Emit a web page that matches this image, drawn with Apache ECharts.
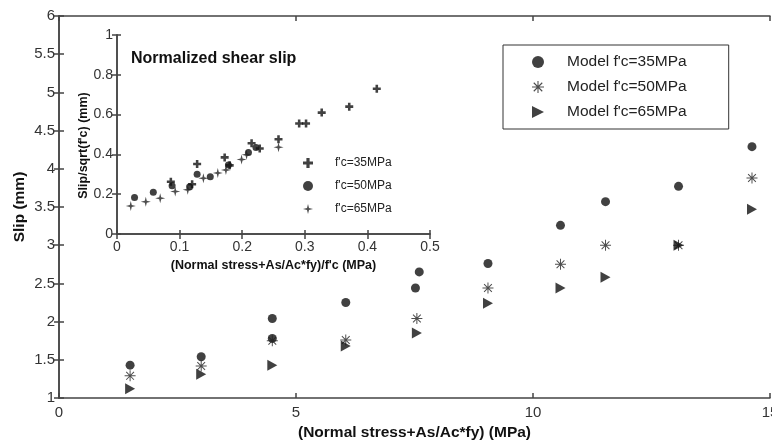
<!DOCTYPE html>
<html>
<head>
<meta charset="utf-8">
<script src="https://cdn.jsdelivr.net/npm/echarts@6/dist/echarts.min.js"></script>
<style>
  html, body { margin: 0; padding: 0; background: #fff; }
  #chart { width: 772px; height: 443px; }
</style>
</head>
<body>
<div id="chart"></div>
<script>
// ---- Main chart data: [normal stress + As/Ac*fy (MPa), slip (mm)] ----
const model35 = [[1.5,1.43],[3.0,1.54],[4.5,2.04],[4.5,1.78],[6.05,2.25],[7.6,2.65],[7.52,2.44],[9.05,2.76],[10.58,3.26],[11.53,3.57],[13.07,3.77],[14.62,4.29]];
const model50 = [[1.5,1.29],[3.0,1.42],[4.5,1.75],[6.05,1.76],[7.55,2.04],[9.05,2.44],[10.58,2.75],[11.53,3.0],[13.07,3.0],[14.62,3.88]];
const model65 = [[1.5,1.12],[3.0,1.31],[4.5,1.43],[6.05,1.68],[7.55,1.85],[9.05,2.24],[10.58,2.44],[11.53,2.58],[13.07,3.0],[14.62,3.47]];

// ---- Inset data: [normalized stress, slip/sqrt(f'c)] ----
const inset35 = [[0.086,0.263],[0.12,0.25],[0.128,0.352],[0.172,0.385],[0.18,0.345],[0.215,0.456],[0.228,0.43],[0.258,0.476],[0.291,0.555],[0.302,0.555],[0.327,0.61],[0.371,0.64],[0.415,0.73]];
const inset50 = [[0.028,0.184],[0.058,0.21],[0.088,0.243],[0.116,0.238],[0.128,0.30],[0.149,0.288],[0.178,0.347],[0.21,0.41],[0.222,0.435]];
const inset65 = [[0.022,0.141],[0.046,0.162],[0.069,0.18],[0.093,0.213],[0.113,0.222],[0.138,0.28],[0.161,0.306],[0.174,0.322],[0.199,0.375],[0.207,0.398],[0.258,0.436]];

// ---- Labels ----
const mainNames = ["Model f'c=35MPa", "Model f'c=50MPa", "Model f'c=65MPa"];
const insetNames = ["f'c=35MPa", "f'c=50MPa", "f'c=65MPa"];
const mainXName = "(Normal stress+As/Ac*fy) (MPa)";
const mainYName = "Slip (mm)";
const insetXName = "(Normal stress+As/Ac*fy)/f'c (MPa)";
const insetYName = "Slip/sqrt(f'c) (mm)";
const insetTitle = "Normalized shear slip";

const INK = '#111';
const AX = '#444';
const FONT = '"Liberation Sans", Arial, sans-serif';

const asterisk = 'path://M0,9.1L20,9.1L20,10.9L0,10.9Z M9.1,0L10.9,0L10.9,20L9.1,20Z M3.57,2.29L17.71,16.43L16.43,17.71L2.29,3.57Z M17.71,3.57L3.57,17.71L2.29,16.43L16.43,2.29Z';
const triRight = 'path://M0,0L10,5L0,10Z';
const boldCross = 'path://M3.4,0H6.6V3.4H10V6.6H6.6V10H3.4V6.6H0V3.4H3.4Z';
const star4 = 'path://M5,0L6,4L10,5L6,6L5,10L4,6L0,5L4,4Z';

function mirrorX(grid, min, max, interval) {
  return { type: 'value', gridIndex: grid, position: 'top', min, max, interval,
    axisLine: { show: true, lineStyle: { color: AX, width: 1.5 } },
    axisTick: { show: true, inside: true, length: 5, lineStyle: { color: AX, width: 1.5 } },
    axisLabel: { show: false }, splitLine: { show: false } };
}
function mirrorY(grid, min, max, interval) {
  return { type: 'value', gridIndex: grid, position: 'right', min, max, interval,
    axisLine: { show: true, lineStyle: { color: AX, width: 1.5 } },
    axisTick: { show: true, inside: true, length: 5, lineStyle: { color: AX, width: 1.5 } },
    axisLabel: { show: false }, splitLine: { show: false } };
}

const chart = echarts.init(document.getElementById('chart'), null, { renderer: 'canvas' });
chart.setOption({
  animation: false,
  backgroundColor: '#fff',
  textStyle: { fontFamily: FONT },
  title: {
    text: insetTitle, left: 131, top: 51, padding: 0,
    textStyle: { fontSize: 16, fontWeight: 'bold', color: INK, fontFamily: FONT }
  },
  grid: [
    { left: 59, right: 2, top: 16, bottom: 45, show: false, containLabel: false, outerBoundsMode: 'none' },
    { left: 117, right: 342, top: 35, bottom: 209, show: true, backgroundColor: '#fff', borderWidth: 0, z: 5,
      containLabel: false, outerBoundsMode: 'none' }
  ],
  legend: [
    {
      data: mainNames, orient: 'vertical', left: 503, top: 45,
      itemWidth: 12, itemHeight: 12, itemGap: 9,
      padding: [9, 42, 9, 29],
      borderColor: '#333', borderWidth: 1, selectedMode: false,
      textStyle: { fontSize: 15.5, color: '#222', fontFamily: FONT, padding: [0, 0, 0, 18] }
    },
    {
      data: insetNames, orient: 'vertical', left: 303, top: 157, z: 20,
      itemWidth: 10, itemHeight: 10, itemGap: 11, padding: 0, selectedMode: false,
      textStyle: { fontSize: 12, color: '#222', fontFamily: FONT, padding: [0, 0, 0, 17] }
    }
  ],
  xAxis: [
    { type: 'value', gridIndex: 0, min: 0, max: 15, interval: 5,
      name: mainXName, nameLocation: 'middle', nameGap: 25,
      nameTextStyle: { fontSize: 15.5, fontWeight: 'bold', color: INK, fontFamily: FONT },
      axisLine: { show: true, lineStyle: { color: AX, width: 1.5 } },
      axisTick: { show: true, inside: true, length: 5, lineStyle: { color: AX, width: 1.5 } },
      axisLabel: { fontSize: 15, color: '#333', margin: 7, fontFamily: FONT },
      splitLine: { show: false } },
    mirrorX(0, 0, 15, 5),
    { type: 'value', gridIndex: 1, min: 0, max: 0.5, interval: 0.1, z: 10,
      name: insetXName, nameLocation: 'middle', nameGap: 25,
      nameTextStyle: { fontSize: 12.5, fontWeight: 'bold', color: INK, fontFamily: FONT },
      axisLine: { show: true, lineStyle: { color: AX, width: 1.5 } },
      axisTick: { show: true, inside: true, length: 4, lineStyle: { color: AX, width: 1.5 } },
      axisLabel: { fontSize: 14, color: '#333', margin: 6, fontFamily: FONT },
      splitLine: { show: false } },
    Object.assign(mirrorX(1, 0, 0.5, 0.1), { z: 10 })
  ],
  yAxis: [
    { type: 'value', gridIndex: 0, min: 1, max: 6, interval: 0.5,
      name: mainYName, nameLocation: 'middle', nameGap: 31, nameMoveOverlap: false,
      nameTextStyle: { fontSize: 15.5, fontWeight: 'bold', color: INK, fontFamily: FONT },
      axisLine: { show: true, lineStyle: { color: AX, width: 1.5 } },
      axisTick: { show: true, inside: true, length: 5, lineStyle: { color: AX, width: 1.5 } },
      axisLabel: { fontSize: 15, color: '#333', margin: 4, fontFamily: FONT },
      splitLine: { show: false } },
    mirrorY(0, 1, 6, 0.5),
    { type: 'value', gridIndex: 1, min: 0, max: 1, interval: 0.2, z: 10,
      name: insetYName, nameLocation: 'middle', nameGap: 27,
      nameTextStyle: { fontSize: 12.5, fontWeight: 'bold', color: INK, fontFamily: FONT, padding: [0, 22, 0, 0] },
      axisLine: { show: true, lineStyle: { color: AX, width: 1.5 } },
      axisTick: { show: true, inside: true, length: 4, lineStyle: { color: AX, width: 1.5 } },
      axisLabel: { fontSize: 14, color: '#333', margin: 4, fontFamily: FONT },
      splitLine: { show: false } },
    Object.assign(mirrorY(1, 0, 1, 0.2), { z: 10 })
  ],
  series: [
    { name: mainNames[0], type: 'scatter', xAxisIndex: 0, yAxisIndex: 0, data: model35,
      symbol: 'circle', symbolSize: 9, itemStyle: { color: INK } },
    { name: mainNames[1], type: 'scatter', xAxisIndex: 0, yAxisIndex: 0, data: model50,
      symbol: asterisk, symbolSize: 11, itemStyle: { color: '#222' } },
    { name: mainNames[2], type: 'scatter', xAxisIndex: 0, yAxisIndex: 0, data: model65,
      symbol: triRight, symbolSize: [10, 11], itemStyle: { color: INK } },
    { name: insetNames[0], type: 'scatter', xAxisIndex: 2, yAxisIndex: 2, data: inset35, z: 12,
      symbol: boldCross, symbolSize: 8, itemStyle: { color: INK } },
    { name: insetNames[1], type: 'scatter', xAxisIndex: 2, yAxisIndex: 2, data: inset50, z: 12,
      symbol: 'circle', symbolSize: 7, itemStyle: { color: INK } },
    { name: insetNames[2], type: 'scatter', xAxisIndex: 2, yAxisIndex: 2, data: inset65, z: 12,
      symbol: star4, symbolSize: 10, itemStyle: { color: '#222' } }
  ]
});
</script>
</body>
</html>
